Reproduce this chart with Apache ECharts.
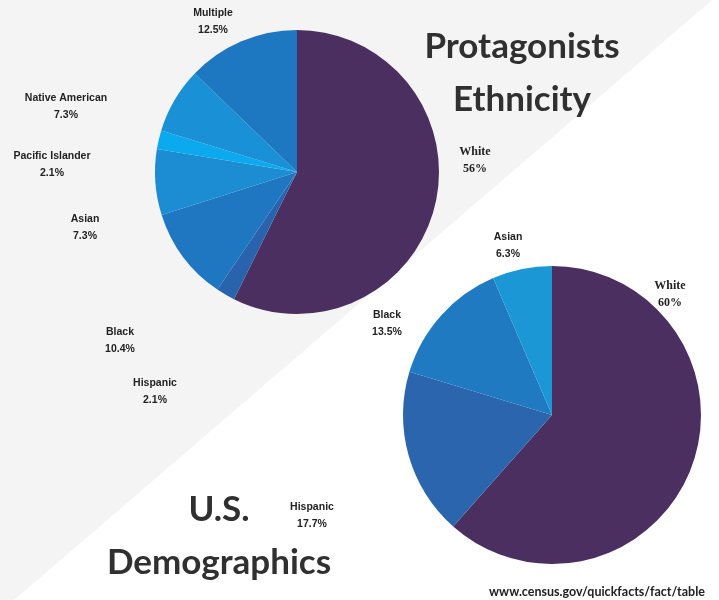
<!DOCTYPE html>
<html>
<head>
<meta charset="utf-8">
<script src="https://cdn.jsdelivr.net/npm/echarts@6/dist/echarts.min.js"></script>
<style>
  html, body { margin: 0; padding: 0; background: #fff; }
  #chart { width: 719px; height: 600px; }
</style>
</head>
<body>
<div id="chart"></div>
<script>
// protagonists ethnicity (clockwise from 12 o'clock)
var protagNames = ['White', 'Hispanic', 'Black', 'Asian', 'Pacific Islander', 'Native American', 'Multiple'];
var protagValues = [56, 2.1, 10.4, 7.3, 2.1, 7.3, 12.5];

// U.S. demographics
var usNames = ['White', 'Hispanic', 'Black', 'Asian'];
var usValues = [60, 17.7, 13.5, 6.3];

var protagColors = ['#4a2f60', '#2a63ad', '#1f77c1', '#1c8dd2', '#0ba9ee', '#1a90d6', '#1e78c1'];
var usColors = ['#4a2f60', '#2b65ae', '#1f7ac2', '#1b97d6'];

// where the slide put each label (centre of the two-line block)
var protagLabelPos = [[475, 160], [155, 392], [120, 341], [85, 228], [52, 165], [66, 107], [213, 22]];
var usLabelPos = [[670, 294], [312, 516], [387, 324], [508, 246]];

function buildData(names, values, colors) {
  return names.map(function (n, i) {
    var item = { name: n, value: values[i], itemStyle: { color: colors[i] } };
    if (n === 'White') {
      item.label = { fontFamily: 'Liberation Serif', fontSize: 12 };
    }
    return item;
  });
}

var chart = echarts.init(document.getElementById('chart'));

var labelStyle = {
  show: true,
  position: 'inside',
  formatter: '{b}\n{c}%',
  color: '#222',
  fontFamily: 'Liberation Sans',
  fontWeight: 'bold',
  fontSize: 10.5,
  lineHeight: 17,
  align: 'center'
};

chart.setOption({
  animation: false,
  backgroundColor: '#ffffff',
  graphic: [
    {
      type: 'polygon',
      z: -10,
      shape: { points: [[0, 0], [712, 0], [14, 600], [0, 600]] },
      style: { fill: '#f4f4f4' }
    }
  ],
  title: [
    {
      text: 'Protagonists\nEthnicity',
      left: 517,
      top: 15,
      textAlign: 'center',
      textStyle: { fontFamily: 'Lato', fontWeight: 'bold', fontSize: 35, lineHeight: 53, color: '#303030' }
    },
    {
      text: 'U.S.\nDemographics',
      left: 214,
      top: 478,
      textAlign: 'center',
      textStyle: { fontFamily: 'Lato', fontWeight: 'bold', fontSize: 35, lineHeight: 53, color: '#303030' }
    },
    {
      text: 'www.census.gov/quickfacts/fact/table',
      left: 592,
      top: 580,
      textAlign: 'center',
      textStyle: { fontFamily: 'Lato', fontWeight: 'bold', fontSize: 12.5, color: '#222' }
    }
  ],
  series: [
    {
      name: 'Protagonists',
      type: 'pie',
      center: [297, 172],
      radius: 142,
      startAngle: 90,
      clockwise: true,
      silent: true,
      label: labelStyle,
      labelLine: { show: false },
      labelLayout: function (p) {
        var pos = protagLabelPos[p.dataIndex];
        return { x: pos[0], y: pos[1], align: 'center', verticalAlign: 'middle' };
      },
      data: buildData(protagNames, protagValues, protagColors)
    },
    {
      name: 'U.S.',
      type: 'pie',
      center: [552, 415],
      radius: 149,
      startAngle: 90,
      clockwise: true,
      silent: true,
      label: labelStyle,
      labelLine: { show: false },
      labelLayout: function (p) {
        var pos = usLabelPos[p.dataIndex];
        return { x: pos[0], y: pos[1], align: 'center', verticalAlign: 'middle' };
      },
      data: buildData(usNames, usValues, usColors)
    }
  ]
});
</script>
</body>
</html>
